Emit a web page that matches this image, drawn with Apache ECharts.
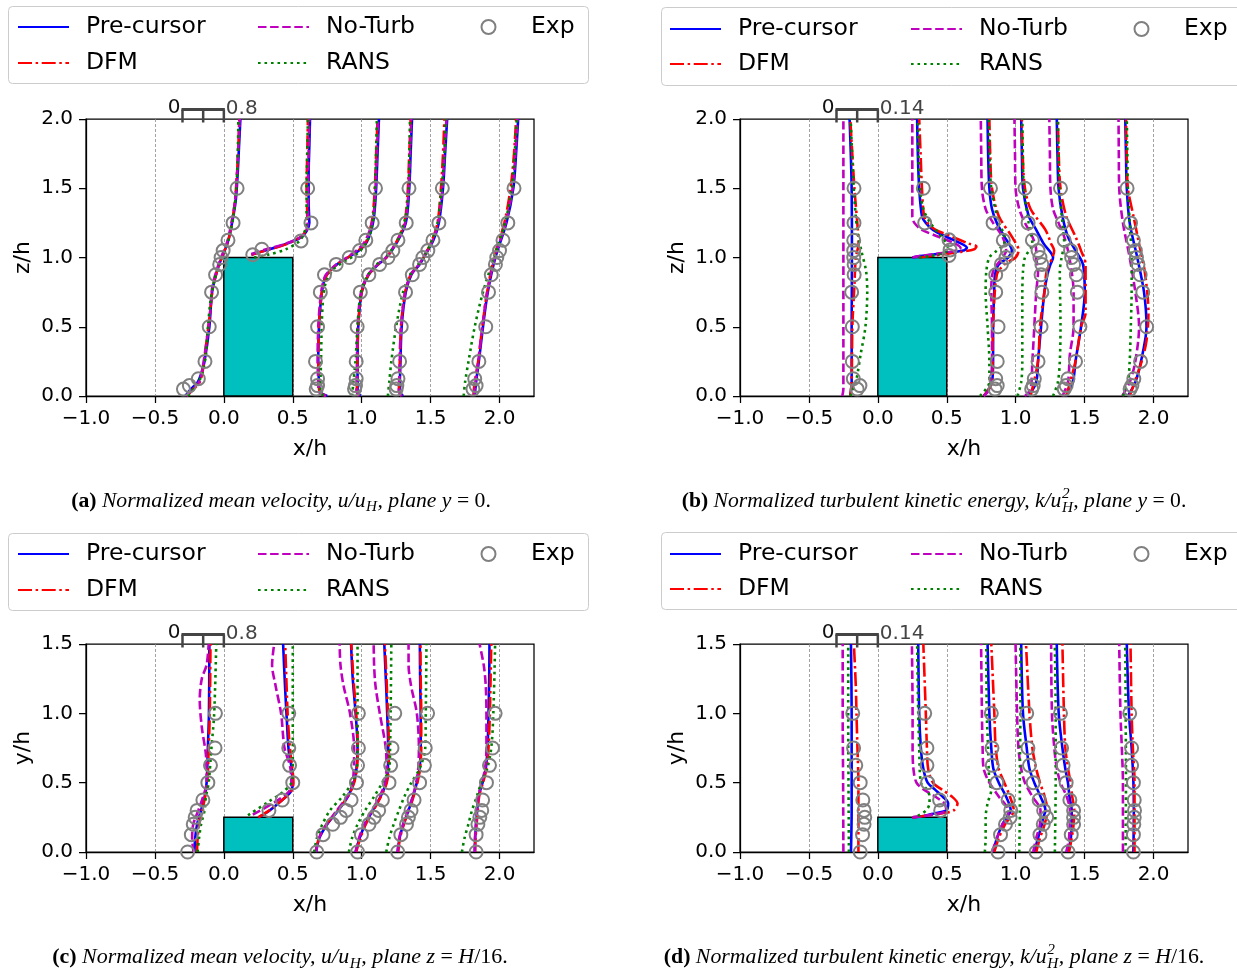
<!DOCTYPE html>
<html><head><meta charset="utf-8">
<script src="https://cdn.jsdelivr.net/npm/echarts@6/dist/echarts.min.js"></script>
<style>html,body{margin:0;padding:0;background:#fff}#c{width:1237px;height:975px}</style>
</head><body><div id="c"></div>
<script>
// ---------------- tick labels / axes ----------------
const xTicks = [-1, -0.5, 0, 0.5, 1, 1.5, 2];
const yTicksZ = [0, 0.5, 1, 1.5, 2];
const yTicksY = [0, 0.5, 1, 1.5];
const seriesNames = ['Pre-cursor', 'DFM', 'No-Turb', 'RANS', 'Exp'];
const blockX = [0, 0.5];
const blockTops = [1.0, 1.0, 0.25, 0.25];
const scaleBarX = [-0.3, 0];
const scaleBarLabels = [['0', '0.8'], ['0', '0.14'], ['0', '0.8'], ['0', '0.14']];

// ---------------- (a) u/uH, plane y=0 : profiles [x/h, z/h] ----------------
const a_pre = [
 [[-0.28,0],[-0.24,0.05],[-0.19,0.1],[-0.165,0.16],[-0.14,0.25],[-0.105,0.5],[-0.085,0.75],[-0.05,0.9],[-0.015,1.0],[0.025,1.1],[0.05,1.2],[0.085,1.4],[0.1,1.6],[0.11,1.8],[0.12,2.0]],
 [[0.2,1.02],[0.28,1.045],[0.43,1.09],[0.56,1.145],[0.6,1.19],[0.62,1.25],[0.615,1.4],[0.615,1.6],[0.62,1.8],[0.625,2.0]],
 [[0.75,0],[0.7,0.03],[0.69,0.1],[0.685,0.25],[0.69,0.5],[0.705,0.7],[0.72,0.8],[0.745,0.875],[0.82,0.95],[0.9,1.0],[0.98,1.05],[1.03,1.1],[1.07,1.2],[1.09,1.3],[1.105,1.5],[1.115,1.75],[1.125,2.0]],
 [[0.99,0],[0.97,0.04],[0.97,0.2],[0.975,0.5],[1.0,0.75],[1.05,0.875],[1.12,0.95],[1.18,1.0],[1.25,1.1],[1.32,1.25],[1.345,1.5],[1.355,1.75],[1.365,2.0]],
 [[1.3,0],[1.275,0.04],[1.28,0.2],[1.29,0.5],[1.32,0.75],[1.36,0.875],[1.42,0.95],[1.45,1.0],[1.52,1.125],[1.56,1.25],[1.59,1.5],[1.605,1.75],[1.62,2.0]],
 [[1.82,0],[1.83,0.1],[1.85,0.25],[1.88,0.5],[1.915,0.75],[1.97,1.0],[2.05,1.25],[2.1,1.5],[2.12,1.75],[2.135,2.0]]
];
const a_dfm = [
 [[-0.27,0],[-0.22,0.05],[-0.175,0.1],[-0.15,0.2],[-0.125,0.4],[-0.1,0.6],[-0.08,0.78],[-0.05,0.9],[-0.015,1.0],[0.025,1.1],[0.05,1.2],[0.08,1.4],[0.095,1.6],[0.105,1.8],[0.112,2.0]],
 [[0.2,1.02],[0.3,1.05],[0.45,1.095],[0.56,1.15],[0.595,1.2],[0.605,1.3],[0.6,1.5],[0.605,1.75],[0.61,2.0]],
 [[0.74,0],[0.695,0.03],[0.688,0.1],[0.685,0.25],[0.69,0.5],[0.705,0.7],[0.72,0.8],[0.748,0.875],[0.82,0.95],[0.9,1.0],[0.975,1.05],[1.025,1.1],[1.06,1.2],[1.08,1.3],[1.095,1.5],[1.105,1.75],[1.115,2.0]],
 [[0.98,0],[0.965,0.04],[0.968,0.2],[0.975,0.5],[1.0,0.75],[1.05,0.875],[1.12,0.95],[1.18,1.0],[1.245,1.1],[1.31,1.25],[1.335,1.5],[1.345,1.75],[1.355,2.0]],
 [[1.29,0],[1.27,0.04],[1.275,0.2],[1.285,0.5],[1.315,0.75],[1.355,0.875],[1.415,0.95],[1.45,1.0],[1.51,1.125],[1.55,1.25],[1.575,1.5],[1.59,1.75],[1.6,2.0]],
 [[1.81,0],[1.82,0.1],[1.845,0.25],[1.875,0.5],[1.91,0.75],[1.96,1.0],[2.035,1.25],[2.08,1.5],[2.105,1.75],[2.12,2.0]]
];
const a_noturb = [
 [[-0.27,0],[-0.23,0.05],[-0.18,0.1],[-0.155,0.2],[-0.125,0.4],[-0.1,0.6],[-0.085,0.78],[-0.055,0.9],[-0.02,1.0],[0.02,1.1],[0.045,1.2],[0.08,1.4],[0.095,1.6],[0.105,1.8],[0.115,2.0]],
 [[0.2,1.025],[0.3,1.058],[0.45,1.1],[0.56,1.15],[0.6,1.2],[0.61,1.3],[0.61,1.5],[0.615,1.75],[0.62,2.0]],
 [[0.74,0],[0.69,0.03],[0.685,0.1],[0.68,0.25],[0.685,0.5],[0.7,0.7],[0.715,0.8],[0.74,0.875],[0.815,0.95],[0.9,1.005],[0.975,1.06],[1.02,1.11],[1.06,1.2],[1.085,1.3],[1.1,1.5],[1.11,1.75],[1.12,2.0]],
 [[0.98,0],[0.962,0.04],[0.965,0.2],[0.97,0.5],[0.995,0.75],[1.045,0.875],[1.115,0.95],[1.175,1.0],[1.245,1.1],[1.315,1.25],[1.34,1.5],[1.35,1.75],[1.36,2.0]],
 [[1.29,0],[1.27,0.04],[1.275,0.2],[1.285,0.5],[1.315,0.75],[1.355,0.875],[1.415,0.95],[1.445,1.0],[1.515,1.125],[1.555,1.25],[1.585,1.5],[1.6,1.75],[1.615,2.0]],
 [[1.815,0],[1.825,0.1],[1.845,0.25],[1.875,0.5],[1.91,0.75],[1.965,1.0],[2.045,1.25],[2.095,1.5],[2.115,1.75],[2.13,2.0]]
];
const a_rans = [
 [[-0.26,0],[-0.2,0.08],[-0.16,0.15],[-0.13,0.3],[-0.115,0.5],[-0.095,0.7],[-0.065,0.85],[-0.03,0.95],[0.01,1.05],[0.04,1.15],[0.07,1.3],[0.09,1.5],[0.1,1.7],[0.105,2.0]],
 [[0.22,1.0],[0.32,1.02],[0.45,1.06],[0.55,1.12],[0.59,1.2],[0.6,1.3],[0.6,1.5],[0.605,1.75],[0.61,2.0]],
 [[0.72,0],[0.7,0.05],[0.705,0.25],[0.71,0.5],[0.72,0.7],[0.74,0.82],[0.8,0.92],[0.89,0.98],[0.97,1.03],[1.03,1.1],[1.07,1.2],[1.09,1.35],[1.1,1.6],[1.11,2.0]],
 [[0.93,0],[0.94,0.1],[0.955,0.25],[0.97,0.5],[0.995,0.75],[1.05,0.88],[1.12,0.96],[1.19,1.02],[1.26,1.12],[1.32,1.3],[1.34,1.5],[1.35,2.0]],
 [[1.19,0],[1.2,0.1],[1.215,0.25],[1.25,0.5],[1.3,0.75],[1.35,0.875],[1.41,0.95],[1.45,1.0],[1.51,1.125],[1.55,1.25],[1.58,1.5],[1.6,1.75],[1.61,2.0]],
 [[1.74,0],[1.75,0.1],[1.775,0.25],[1.82,0.5],[1.88,0.75],[1.96,1.0],[2.04,1.25],[2.09,1.5],[2.11,1.75],[2.125,2.0]]
];
const a_exp = [
 [[-0.293,0.05],[-0.25,0.075],[-0.185,0.125],[-0.137,0.25],[-0.106,0.5],[-0.089,0.75],[-0.06,0.875],[-0.03,0.95],[-0.02,1.0],[-0.005,1.05],[0.03,1.125],[0.067,1.25],[0.096,1.5]],
 [[0.21,1.02],[0.276,1.06],[0.56,1.12],[0.632,1.25],[0.608,1.5]],
 [[0.67,0.05],[0.68,0.075],[0.68,0.125],[0.665,0.25],[0.68,0.5],[0.70,0.75],[0.73,0.875],[0.815,0.95],[0.91,1.0],[0.985,1.05],[1.03,1.125],[1.076,1.25],[1.1,1.5]],
 [[0.948,0.05],[0.955,0.075],[0.96,0.125],[0.96,0.25],[0.967,0.5],[0.99,0.75],[1.052,0.875],[1.13,0.95],[1.19,1.0],[1.226,1.05],[1.263,1.125],[1.323,1.25],[1.343,1.5]],
 [[1.25,0.05],[1.255,0.075],[1.263,0.125],[1.275,0.25],[1.287,0.5],[1.318,0.75],[1.367,0.875],[1.42,0.95],[1.444,1.0],[1.48,1.05],[1.517,1.125],[1.56,1.25],[1.585,1.5]],
 [[1.807,0.05],[1.83,0.075],[1.82,0.125],[1.85,0.25],[1.9,0.5],[1.92,0.75],[1.94,0.875],[1.97,0.95],[1.98,1.0],[2.0,1.05],[2.025,1.125],[2.06,1.25],[2.105,1.5]]
];

// ---------------- (b) k/uH^2, plane y=0 ----------------
const b_pre = [
 [[-0.2,0],[-0.19,0.1],[-0.19,0.5],[-0.188,1.0],[-0.19,1.5],[-0.205,2.0]],
 [[0.25,1.0],[0.307,1.01],[0.47,1.03],[0.62,1.05],[0.646,1.07],[0.605,1.1],[0.497,1.15],[0.4,1.2],[0.348,1.25],[0.32,1.3],[0.3,1.5],[0.29,1.75],[0.285,2.0]],
 [[0.768,0],[0.828,0.1],[0.836,0.25],[0.836,0.5],[0.844,0.75],[0.85,0.875],[0.877,0.95],[0.945,1.0],[0.972,1.05],[0.918,1.15],[0.863,1.25],[0.828,1.35],[0.809,1.5],[0.8,1.75],[0.796,2.0]],
 [[1.094,0],[1.149,0.1],[1.162,0.25],[1.184,0.5],[1.208,0.75],[1.23,0.875],[1.252,0.95],[1.271,1.0],[1.203,1.1],[1.149,1.2],[1.094,1.3],[1.053,1.5],[1.045,1.75],[1.04,2.0]],
 [[1.366,0],[1.415,0.1],[1.434,0.25],[1.474,0.5],[1.501,0.75],[1.488,0.95],[1.434,1.05],[1.379,1.15],[1.339,1.3],[1.311,1.5],[1.303,1.75],[1.298,2.0]],
 [[1.814,0],[1.868,0.1],[1.909,0.25],[1.949,0.5],[1.931,0.75],[1.882,1.0],[1.827,1.25],[1.806,1.5],[1.8,1.75],[1.795,2.0]]
];
const b_dfm = [
 [[-0.2,0],[-0.19,0.1],[-0.185,0.5],[-0.17,0.8],[-0.16,1.0],[-0.14,1.1],[-0.145,1.2],[-0.17,1.5],[-0.2,2.0]],
 [[0.3,1.0],[0.45,1.02],[0.6,1.04],[0.7,1.06],[0.715,1.08],[0.66,1.1],[0.54,1.15],[0.42,1.2],[0.36,1.25],[0.335,1.3],[0.32,1.5],[0.31,1.75],[0.3,2.0]],
 [[0.768,0],[0.828,0.1],[0.836,0.5],[0.863,0.875],[0.918,0.95],[0.999,1.0],[1.021,1.05],[0.972,1.15],[0.877,1.3],[0.828,1.5],[0.815,1.75],[0.809,2.0]],
 [[1.108,0],[1.162,0.25],[1.176,0.5],[1.208,0.75],[1.225,0.9],[1.279,1.05],[1.257,1.1],[1.216,1.2],[1.108,1.35],[1.067,1.5],[1.05,1.75],[1.045,2.0]],
 [[1.366,0],[1.434,0.25],[1.474,0.5],[1.507,0.6],[1.507,0.75],[1.507,0.95],[1.474,1.05],[1.434,1.15],[1.366,1.3],[1.325,1.5],[1.312,1.75],[1.306,2.0]],
 [[1.827,0],[1.914,0.25],[1.949,0.4],[1.963,0.6],[1.936,0.9],[1.895,1.1],[1.854,1.3],[1.814,1.5],[1.805,1.75],[1.8,2.0]]
];
const b_noturb = [
 [[-0.258,0],[-0.25,0.05],[-0.25,0.5],[-0.25,1.0],[-0.25,1.5],[-0.25,2.0]],
 [[0.25,1.0],[0.3,1.01],[0.45,1.03],[0.57,1.05],[0.6,1.07],[0.56,1.1],[0.44,1.15],[0.32,1.2],[0.265,1.25],[0.25,1.3],[0.25,1.5],[0.25,1.75],[0.25,2.0]],
 [[0.768,0],[0.809,0.05],[0.828,0.25],[0.828,0.5],[0.823,0.75],[0.836,0.9],[0.904,1.0],[0.931,1.05],[0.904,1.15],[0.836,1.25],[0.782,1.35],[0.755,1.5],[0.75,1.75],[0.747,2.0]],
 [[1.067,0],[1.108,0.05],[1.121,0.25],[1.135,0.5],[1.149,0.75],[1.162,0.9],[1.149,1.0],[1.149,1.05],[1.121,1.15],[1.067,1.25],[1.026,1.35],[0.999,1.5],[0.995,1.75],[0.991,2.0]],
 [[1.339,0],[1.379,0.1],[1.393,0.3],[1.42,0.5],[1.42,0.75],[1.406,0.9],[1.379,1.05],[1.352,1.15],[1.311,1.25],[1.271,1.35],[1.252,1.5],[1.248,1.75],[1.244,2.0]],
 [[1.773,0],[1.827,0.1],[1.868,0.25],[1.895,0.5],[1.868,0.75],[1.827,1.0],[1.778,1.25],[1.751,1.5],[1.748,1.75],[1.746,2.0]]
];
const b_rans = [
 [[-0.2,0],[-0.16,0.1],[-0.125,0.3],[-0.09,0.5],[-0.077,0.75],[-0.085,0.9],[-0.12,1.05],[-0.15,1.2],[-0.175,1.5],[-0.197,2.0]],
 [[0.3,1.0],[0.38,1.01],[0.47,1.03],[0.51,1.06],[0.5,1.1],[0.46,1.15],[0.42,1.2],[0.38,1.25],[0.33,1.35],[0.305,1.5],[0.295,1.75],[0.29,2.0]],
 [[0.741,0],[0.809,0.1],[0.809,0.25],[0.796,0.5],[0.782,0.75],[0.787,0.9],[0.809,1.0],[0.863,1.05],[0.918,1.1],[0.918,1.15],[0.877,1.25],[0.823,1.5],[0.81,1.75],[0.804,2.0]],
 [[1.013,0],[1.04,0.1],[1.048,0.25],[1.048,0.5],[1.048,0.75],[1.053,0.9],[1.067,1.0],[1.121,1.1],[1.094,1.25],[1.059,1.5],[1.052,1.75],[1.048,2.0]],
 [[1.271,0],[1.306,0.1],[1.32,0.25],[1.325,0.5],[1.32,0.9],[1.333,1.0],[1.352,1.1],[1.339,1.25],[1.317,1.5],[1.31,1.75],[1.306,2.0]],
 [[1.778,0],[1.814,0.1],[1.827,0.25],[1.835,0.5],[1.841,0.75],[1.841,1.0],[1.827,1.25],[1.814,1.5],[1.81,1.75],[1.806,2.0]]
];
const b_exp = [
 [[-0.15,0.05],[-0.13,0.075],[-0.178,0.125],[-0.185,0.25],[-0.185,0.5],[-0.19,0.75],[-0.172,0.875],[-0.172,0.95],[-0.175,1.0],[-0.175,1.05],[-0.175,1.125],[-0.173,1.25],[-0.173,1.5]],
 [[0.516,1.015],[0.524,1.055],[0.516,1.128],[0.34,1.25],[0.33,1.5]],
 [[0.85,0.05],[0.866,0.075],[0.855,0.125],[0.866,0.25],[0.872,0.5],[0.855,0.75],[0.855,0.875],[0.896,0.95],[0.93,1.0],[0.94,1.05],[0.91,1.125],[0.836,1.25],[0.817,1.5]],
 [[1.116,0.05],[1.127,0.075],[1.135,0.125],[1.162,0.25],[1.184,0.5],[1.19,0.75],[1.184,0.875],[1.19,0.95],[1.176,1.0],[1.162,1.05],[1.121,1.125],[1.09,1.25],[1.067,1.5]],
 [[1.352,0.05],[1.366,0.075],[1.379,0.125],[1.434,0.25],[1.466,0.5],[1.447,0.75],[1.44,0.875],[1.42,0.95],[1.406,1.0],[1.398,1.05],[1.352,1.125],[1.339,1.25],[1.325,1.5]],
 [[1.83,0.05],[1.843,0.075],[1.857,0.125],[1.906,0.25],[1.95,0.5],[1.922,0.75],[1.903,0.875],[1.887,0.95],[1.876,1.0],[1.868,1.05],[1.854,1.125],[1.833,1.25],[1.808,1.5]]
];

// ---------------- (c) u/uH, plane z=H/16 : profiles [x/h, y/h] ----------------
const c_pre = [
 [[-0.213,0],[-0.208,0.1],[-0.194,0.2],[-0.166,0.3],[-0.139,0.4],[-0.125,0.5],[-0.116,0.75],[-0.108,1.0],[-0.105,1.5]],
 [[0.25,0.25],[0.32,0.29],[0.43,0.38],[0.485,0.434],[0.5,0.494],[0.49,0.615],[0.47,0.735],[0.457,0.95],[0.444,1.19],[0.43,1.5]],
 [[0.67,0],[0.693,0.1],[0.75,0.2],[0.83,0.3],[0.9,0.4],[0.943,0.5],[0.962,0.6],[0.97,0.75],[0.956,1.0],[0.935,1.25],[0.923,1.5]],
 [[0.956,0],[0.985,0.1],[1.026,0.2],[1.08,0.3],[1.137,0.4],[1.178,0.5],[1.19,0.6],[1.192,0.75],[1.185,1.0],[1.175,1.25],[1.164,1.5]],
 [[1.261,0],[1.275,0.1],[1.303,0.2],[1.34,0.3],[1.372,0.4],[1.4,0.5],[1.42,0.6],[1.428,0.75],[1.428,1.0],[1.424,1.25],[1.422,1.5]],
 [[1.821,0],[1.823,0.1],[1.834,0.25],[1.848,0.4],[1.877,0.5],[1.9,0.6],[1.913,0.75],[1.92,1.0],[1.925,1.25],[1.927,1.5]]
];
const c_dfm = [
 [[-0.195,0],[-0.19,0.1],[-0.18,0.2],[-0.158,0.3],[-0.135,0.4],[-0.12,0.5],[-0.11,0.75],[-0.102,1.0],[-0.097,1.5]],
 [[0.25,0.25],[0.33,0.3],[0.44,0.39],[0.49,0.44],[0.505,0.5],[0.495,0.62],[0.48,0.74],[0.465,0.95],[0.455,1.2],[0.445,1.5]],
 [[0.665,0],[0.69,0.1],[0.745,0.2],[0.825,0.3],[0.9,0.4],[0.945,0.5],[0.965,0.6],[0.972,0.75],[0.96,1.0],[0.94,1.25],[0.925,1.5]],
 [[0.96,0],[0.99,0.1],[1.03,0.2],[1.085,0.3],[1.14,0.4],[1.182,0.5],[1.195,0.6],[1.197,0.75],[1.19,1.0],[1.18,1.25],[1.168,1.5]],
 [[1.265,0],[1.278,0.1],[1.306,0.2],[1.343,0.3],[1.376,0.4],[1.404,0.5],[1.423,0.6],[1.432,0.75],[1.432,1.0],[1.428,1.25],[1.426,1.5]],
 [[1.823,0],[1.826,0.1],[1.838,0.25],[1.852,0.4],[1.88,0.5],[1.905,0.6],[1.92,0.75],[1.93,1.0],[1.935,1.25],[1.94,1.5]]
];
const c_noturb = [
 [[-0.22,0],[-0.23,0.1],[-0.222,0.2],[-0.185,0.3],[-0.15,0.4],[-0.125,0.5],[-0.13,0.7],[-0.16,0.9],[-0.175,1.1],[-0.16,1.25],[-0.125,1.35],[-0.11,1.5]],
 [[0.21,0.27],[0.37,0.36],[0.47,0.434],[0.49,0.494],[0.48,0.62],[0.44,0.75],[0.415,1.0],[0.375,1.2],[0.35,1.35],[0.365,1.5]],
 [[0.668,0],[0.69,0.1],[0.745,0.2],[0.82,0.3],[0.895,0.4],[0.935,0.5],[0.945,0.75],[0.915,1.0],[0.868,1.2],[0.846,1.35],[0.84,1.5]],
 [[0.955,0],[0.98,0.1],[1.02,0.2],[1.075,0.3],[1.13,0.4],[1.17,0.5],[1.18,0.6],[1.175,0.75],[1.131,1.0],[1.1,1.2],[1.09,1.35],[1.087,1.5]],
 [[1.26,0],[1.272,0.1],[1.3,0.2],[1.335,0.3],[1.37,0.4],[1.395,0.5],[1.41,0.6],[1.415,0.75],[1.4,1.0],[1.358,1.2],[1.34,1.35],[1.34,1.5]],
 [[1.82,0],[1.822,0.1],[1.832,0.25],[1.845,0.4],[1.87,0.5],[1.895,0.6],[1.905,0.75],[1.905,1.0],[1.9,1.2],[1.885,1.35],[1.855,1.5]]
];
const c_rans = [
 [[-0.19,0],[-0.18,0.1],[-0.165,0.2],[-0.14,0.3],[-0.13,0.4],[-0.11,0.5],[-0.09,0.75],[-0.07,1.0],[-0.055,1.5]],
 [[0.175,0.265],[0.32,0.36],[0.43,0.434],[0.49,0.5],[0.5,0.6],[0.5,0.8],[0.5,1.0],[0.5,1.25],[0.5,1.5]],
 [[0.655,0],[0.675,0.1],[0.715,0.2],[0.77,0.3],[0.86,0.4],[0.93,0.5],[0.965,0.6],[0.97,0.75],[0.97,1.0],[0.97,1.5]],
 [[0.907,0],[0.93,0.1],[0.97,0.2],[1.025,0.3],[1.09,0.4],[1.15,0.5],[1.2,0.6],[1.206,0.75],[1.21,1.0],[1.215,1.5]],
 [[1.178,0],[1.2,0.1],[1.232,0.2],[1.27,0.3],[1.31,0.4],[1.36,0.5],[1.42,0.6],[1.461,0.75],[1.465,1.0],[1.47,1.5]],
 [[1.727,0],[1.746,0.1],[1.774,0.2],[1.8,0.3],[1.835,0.4],[1.868,0.5],[1.91,0.6],[1.94,0.75],[1.955,1.0],[1.968,1.5]]
];
const c_exp = [
 [[-0.263,0],[-0.236,0.125],[-0.222,0.2],[-0.208,0.25],[-0.194,0.3],[-0.152,0.375],[-0.116,0.5],[-0.097,0.625],[-0.064,0.75],[-0.061,1.0]],
 [[0.327,0.3],[0.424,0.375],[0.5,0.5],[0.477,0.625],[0.471,0.75],[0.471,1.0]],
 [[0.674,0],[0.72,0.125],[0.79,0.2],[0.846,0.25],[0.887,0.3],[0.923,0.375],[0.962,0.5],[0.97,0.625],[0.976,0.75],[0.976,1.0]],
 [[0.97,0],[0.998,0.125],[1.053,0.2],[1.09,0.25],[1.123,0.3],[1.15,0.375],[1.198,0.5],[1.21,0.625],[1.22,0.75],[1.24,1.0]],
 [[1.261,0],[1.284,0.125],[1.325,0.2],[1.339,0.25],[1.358,0.3],[1.38,0.375],[1.42,0.5],[1.455,0.625],[1.461,0.75],[1.478,1.0]],
 [[1.83,0],[1.83,0.125],[1.843,0.2],[1.857,0.25],[1.871,0.3],[1.877,0.375],[1.905,0.5],[1.927,0.625],[1.949,0.75],[1.968,1.0]]
];

// ---------------- (d) k/uH^2, plane z=H/16 ----------------
const d_pre = [
 [[-0.195,0],[-0.19,0.3],[-0.19,0.5],[-0.19,1.0],[-0.195,1.5]],
 [[0.25,0.25],[0.334,0.26],[0.415,0.28],[0.497,0.3],[0.51,0.35],[0.47,0.4],[0.415,0.45],[0.361,0.5],[0.33,0.6],[0.312,0.75],[0.3,1.0],[0.293,1.5]],
 [[0.836,0],[0.864,0.1],[0.904,0.2],[0.935,0.25],[0.964,0.3],[0.93,0.4],[0.877,0.5],[0.838,0.6],[0.823,0.75],[0.809,1.0],[0.796,1.5]],
 [[1.135,0],[1.162,0.1],[1.19,0.2],[1.2,0.25],[1.216,0.3],[1.18,0.4],[1.135,0.5],[1.1,0.6],[1.08,0.75],[1.053,1.0],[1.04,1.5]],
 [[1.379,0],[1.4,0.1],[1.406,0.2],[1.406,0.3],[1.39,0.4],[1.379,0.5],[1.36,0.6],[1.339,0.75],[1.312,1.0],[1.298,1.5]],
 [[1.854,0],[1.857,0.3],[1.854,0.5],[1.841,0.75],[1.822,1.0],[1.806,1.5]]
];
const d_dfm = [
 [[-0.141,0],[-0.141,0.3],[-0.141,0.5],[-0.148,0.75],[-0.155,1.0],[-0.16,1.2],[-0.174,1.5]],
 [[0.25,0.25],[0.334,0.26],[0.47,0.28],[0.55,0.3],[0.578,0.35],[0.537,0.4],[0.465,0.45],[0.4,0.5],[0.365,0.6],[0.356,0.75],[0.348,1.0],[0.33,1.5]],
 [[0.845,0],[0.877,0.1],[0.923,0.2],[0.96,0.25],[0.986,0.3],[0.958,0.4],[0.918,0.5],[0.877,0.6],[0.855,0.75],[0.845,1.0],[0.823,1.5]],
 [[1.149,0],[1.176,0.1],[1.21,0.2],[1.23,0.3],[1.21,0.4],[1.176,0.5],[1.149,0.6],[1.121,0.75],[1.1,1.0],[1.075,1.5]],
 [[1.387,0],[1.406,0.1],[1.42,0.2],[1.425,0.3],[1.41,0.4],[1.398,0.5],[1.38,0.6],[1.36,0.75],[1.35,1.0],[1.339,1.5]],
 [[1.862,0],[1.862,0.5],[1.85,0.75],[1.841,1.0],[1.833,1.5]]
];
const d_noturb = [
 [[-0.25,0],[-0.252,0.5],[-0.255,1.0],[-0.255,1.5]],
 [[0.25,0.25],[0.4,0.27],[0.497,0.3],[0.483,0.35],[0.415,0.4],[0.334,0.45],[0.28,0.5],[0.258,0.6],[0.252,0.75],[0.252,1.0],[0.247,1.5]],
 [[0.828,0],[0.864,0.1],[0.904,0.2],[0.945,0.25],[0.945,0.3],[0.877,0.4],[0.809,0.5],[0.768,0.6],[0.76,0.75],[0.755,1.0],[0.749,1.5]],
 [[1.127,0],[1.149,0.1],[1.176,0.2],[1.18,0.3],[1.121,0.4],[1.067,0.5],[1.04,0.6],[1.02,0.75],[1.01,1.0],[0.999,1.5]],
 [[1.366,0],[1.387,0.1],[1.393,0.3],[1.37,0.4],[1.325,0.5],[1.299,0.6],[1.28,0.75],[1.263,1.0],[1.257,1.5]],
 [[1.778,0],[1.778,0.5],[1.77,0.75],[1.76,1.0],[1.751,1.5]]
];
const d_rans = [
 [[-0.21,0],[-0.213,0.5],[-0.215,1.0],[-0.215,1.5]],
 [[0.29,0.26],[0.35,0.3],[0.375,0.35],[0.375,0.4],[0.356,0.45],[0.312,0.5],[0.3,0.75],[0.293,1.0],[0.285,1.5]],
 [[0.776,0],[0.782,0.1],[0.782,0.25],[0.796,0.35],[0.823,0.45],[0.809,0.5],[0.8,0.75],[0.79,1.0],[0.787,1.5]],
 [[1.026,0],[1.03,0.3],[1.03,0.5],[1.034,1.0],[1.034,1.5]],
 [[1.284,0],[1.29,0.5],[1.29,1.0],[1.284,1.5]],
 [[1.797,0],[1.8,0.5],[1.798,1.0],[1.795,1.5]]
];
const d_exp = [
 [[-0.128,0],[-0.111,0.125],[-0.1,0.2],[-0.095,0.25],[-0.1,0.3],[-0.109,0.375],[-0.128,0.5],[-0.16,0.625],[-0.176,0.75],[-0.182,1.0]],
 [[0.456,0.3],[0.448,0.375],[0.361,0.5],[0.356,0.625],[0.356,0.75],[0.34,1.0]],
 [[0.872,0],[0.89,0.125],[0.926,0.2],[0.96,0.25],[0.964,0.3],[0.945,0.375],[0.863,0.5],[0.83,0.625],[0.828,0.75],[0.823,1.0]],
 [[1.148,0],[1.176,0.125],[1.2,0.2],[1.225,0.25],[1.203,0.3],[1.17,0.375],[1.127,0.5],[1.1,0.625],[1.089,0.75],[1.08,1.0]],
 [[1.38,0],[1.403,0.125],[1.42,0.2],[1.42,0.25],[1.42,0.3],[1.393,0.375],[1.366,0.5],[1.344,0.625],[1.333,0.75],[1.325,1.0]],
 [[1.854,0],[1.854,0.125],[1.857,0.2],[1.86,0.25],[1.862,0.3],[1.86,0.375],[1.854,0.5],[1.841,0.625],[1.841,0.75],[1.827,1.0]]
];

// ---------------- captions ----------------
const capA = [['b','(a)'],['i',' Normalized mean velocity, '],['i','u/u'],['sub','H'],['i',', plane '],['i','y'],['r',' = 0.']];
const capB = [['b','(b)'],['i',' Normalized turbulent kinetic energy, '],['i','k/u'],['stack','2','H'],['i',', plane '],['i','y'],['r',' = 0.']];
const capC = [['b','(c)'],['i',' Normalized mean velocity, '],['i','u/u'],['sub','H'],['i',', plane '],['i','z'],['r',' = '],['i','H'],['r','/16.']];
const capD = [['b','(d)'],['i',' Normalized turbulent kinetic energy, '],['i','k/u'],['stack','2','H'],['i',', plane '],['i','z'],['r',' = '],['i','H'],['r','/16.']];

// ================= layout / style =================
const FONT = 'DejaVu Sans';
const grids = [
  {left: 86, top: 119, width: 448, height: 277},
  {left: 740, top: 119, width: 448, height: 277},
  {left: 86, top: 644, width: 448, height: 208},
  {left: 740, top: 644, width: 448, height: 208}
];
const panels = [
  {pre: a_pre, dfm: a_dfm, nt: a_noturb, rans: a_rans, exp: a_exp, ymax: 2, yTicks: yTicksZ, yName: 'z/h'},
  {pre: b_pre, dfm: b_dfm, nt: b_noturb, rans: b_rans, exp: b_exp, ymax: 2, yTicks: yTicksZ, yName: 'z/h'},
  {pre: c_pre, dfm: c_dfm, nt: c_noturb, rans: c_rans, exp: c_exp, ymax: 1.5, yTicks: yTicksY, yName: 'y/h'},
  {pre: d_pre, dfm: d_dfm, nt: d_noturb, rans: d_rans, exp: d_exp, ymax: 1.5, yTicks: yTicksY, yName: 'y/h'}
];
const lineDefs = [
  {key: 'pre', name: seriesNames[0], color: '#0000ff', type: 'solid', width: 2.6},
  {key: 'dfm', name: seriesNames[1], color: '#ff0000', type: [14, 3.6, 2.5, 3.6], width: 2.6},
  {key: 'nt', name: seriesNames[2], color: '#bf00bf', type: [8.5, 3.6], width: 2.6},
  {key: 'rans', name: seriesNames[3], color: '#008000', type: [2.6, 3.9], width: 2.6}
];
const expStyle = {color: 'rgba(0,0,0,0)', borderColor: '#808080', borderWidth: 2, opacity: 1};

function fmtX(v) {
  if (Math.abs(v * 2 - Math.round(v * 2)) > 1e-6 || v > 2.0001) return '';
  return (v < 0 ? '\u2212' : '') + Math.abs(v).toFixed(1);
}
const axisLineStyle = {color: '#000', width: 1.25};

const xAxes = [], yAxes = [], series = [];
panels.forEach((P, i) => {
  xAxes.push({
    gridIndex: i, type: 'value', min: -1, max: 2.25, interval: 0.5,
    name: 'x/h', nameLocation: 'middle', nameGap: 42,
    nameTextStyle: {fontSize: 22, fontFamily: FONT, color: '#000'},
    axisLine: {onZero: false, lineStyle: axisLineStyle},
    axisTick: {length: 7, lineStyle: axisLineStyle, customValues: xTicks},
    axisLabel: {customValues: xTicks, formatter: fmtX, fontSize: 20, fontFamily: FONT, color: '#000', margin: 13},
    splitLine: {show: true, lineStyle: {color: '#8a8a8a', width: 0.8, type: [3, 2]}}
  });
  yAxes.push({
    gridIndex: i, type: 'value', min: 0, max: P.ymax, interval: 0.5,
    name: P.yName, nameLocation: 'middle', nameGap: 52, nameRotate: 90,
    nameTextStyle: {fontSize: 22, fontFamily: FONT, color: '#000'},
    axisLine: {onZero: false, lineStyle: axisLineStyle},
    axisTick: {length: 7, lineStyle: axisLineStyle, customValues: P.yTicks},
    axisLabel: {customValues: P.yTicks, formatter: v => v.toFixed(1), fontSize: 20, fontFamily: FONT, color: '#000', margin: 13},
    splitLine: {show: false}
  });
  // obstacle block
  series.push({
    type: 'custom', xAxisIndex: i, yAxisIndex: i, z: 1, silent: true,
    data: [[blockX[0], blockX[1], blockTops[i]]],
    renderItem: (params, api) => {
      const p0 = api.coord([api.value(0), api.value(2)]);
      const p1 = api.coord([api.value(1), 0]);
      return {type: 'rect', shape: {x: p0[0], y: p0[1], width: p1[0] - p0[0], height: p1[1] - p0[1]},
              style: {fill: '#00bfbf', stroke: '#000', lineWidth: 1.5}};
    }
  });
  lineDefs.forEach(L => {
    P[L.key].forEach(prof => {
      series.push({
        type: 'line', name: L.name, xAxisIndex: i, yAxisIndex: i, data: prof,
        symbol: 'none', smooth: 0.3, z: 2, silent: true,
        lineStyle: {color: L.color, width: L.width, type: L.type, cap: 'butt'},
        itemStyle: {color: L.color}
      });
    });
  });
  series.push({
    type: 'scatter', name: seriesNames[4], xAxisIndex: i, yAxisIndex: i, z: 3,
    data: P.exp.flat(), symbol: 'circle', symbolSize: 13, itemStyle: expStyle, silent: true
  });
  // scale bar above axes
  const labs = scaleBarLabels[i];
  series.push({
    type: 'custom', xAxisIndex: i, yAxisIndex: i, z: 5, silent: true, clip: false,
    data: [[scaleBarX[0], scaleBarX[1], P.ymax]],
    renderItem: (params, api) => {
      const a = api.coord([api.value(0), api.value(2)]);
      const b = api.coord([api.value(1), api.value(2)]);
      const yb = a[1] - 9.5, yt = a[1] + 3.5, xm = (a[0] + b[0]) / 2;
      const st = {stroke: '#444', lineWidth: 2.5};
      return {type: 'group', children: [
        {type: 'line', shape: {x1: a[0] - 1, y1: yb, x2: b[0] + 1, y2: yb}, style: {stroke: '#444', lineWidth: 3}},
        {type: 'line', shape: {x1: a[0], y1: yb, x2: a[0], y2: yt}, style: st},
        {type: 'line', shape: {x1: xm, y1: yb, x2: xm, y2: yt}, style: st},
        {type: 'line', shape: {x1: b[0], y1: yb, x2: b[0], y2: yt}, style: st},
        {type: 'text', x: a[0] - 2, y: yb - 2, style: {text: labs[0], font: '20px "DejaVu Sans"', fill: '#111', align: 'right', verticalAlign: 'middle', textAlign: 'right', textVerticalAlign: 'middle'}},
        {type: 'text', x: b[0] + 2, y: yb - 1, style: {text: labs[1], font: '20px "DejaVu Sans"', fill: '#444', align: 'left', verticalAlign: 'middle', textAlign: 'left', textVerticalAlign: 'middle'}}
      ]};
    }
  });
});

// ---------------- legends ----------------
const legendPos = [
  {cols: [17, 257, 462], top: 15, gap: 12},
  {cols: [669, 910, 1115], top: 17, gap: 11},
  {cols: [17, 257, 462], top: 542, gap: 12},
  {cols: [669, 910, 1115], top: 542, gap: 11}
];
const legendFrames = [
  {x: 8, y: 6, w: 580, h: 77},
  {x: 661, y: 7, w: 590, h: 78},
  {x: 8, y: 533, w: 580, h: 77},
  {x: 661, y: 532, w: 590, h: 77}
];
const legCommon = {orient: 'vertical', padding: 0, itemWidth: 51, itemHeight: 14,
  textStyle: {fontSize: 23.5, fontFamily: FONT, color: '#000', padding: [0, 0, 0, 12], lineHeight: 14}};
const legends = [];
legendPos.forEach(L => {
  legends.push(Object.assign({}, legCommon, {data: [seriesNames[0], seriesNames[1]], left: L.cols[0], top: L.top, itemGap: L.gap, itemStyle: {opacity: 0}}));
  legends.push(Object.assign({}, legCommon, {data: [seriesNames[2], seriesNames[3]], left: L.cols[1], top: L.top, itemGap: L.gap, itemStyle: {opacity: 0}}));
  // circle icon sits centred in the 51px slot, so shift the box by its inset
  legends.push(Object.assign({}, legCommon, {data: [{name: seriesNames[4], icon: 'circle', itemStyle: expStyle}], left: L.cols[2] + 18.5, top: L.top, itemGap: L.gap}));
});

// ---------------- captions (graphic text) ----------------
const mctx = document.createElement('canvas').getContext('2d');
const SERIF = '"Liberation Serif", "Times New Roman", serif';
function capFont(kind, fs) {
  if (kind === 'b') return 'bold ' + fs + 'px ' + SERIF;
  if (kind === 'r') return fs + 'px ' + SERIF;
  return 'italic ' + fs + 'px ' + SERIF;
}
function tw(text, font) { mctx.font = font; return mctx.measureText(text).width; }
function pieceW(p, fs) {
  if (p[0] === 'stack') return Math.max(tw(p[1], capFont('i', fs * 0.7)), tw(p[2], capFont('i', fs * 0.7))) + 1;
  if (p[0] === 'sub' || p[0] === 'sup') return tw(p[1], capFont('i', fs * 0.7)) + 1;
  return tw(p[1], capFont(p[0], fs));
}
function buildCaption(pieces, cx, cy, targetW) {
  const w18 = pieces.reduce((s, p) => s + pieceW(p, 18), 0);
  const fs = 18 * targetW / w18;
  const total = pieces.reduce((s, p) => s + pieceW(p, fs), 0);
  let x = cx - total / 2;
  const kids = [];
  const mk = (t, font, xx, yy) => ({type: 'text', x: xx, y: yy,
    style: {text: t, font: font, fill: '#000', align: 'left', verticalAlign: 'middle', textAlign: 'left', textVerticalAlign: 'middle'}});
  pieces.forEach(p => {
    const w = pieceW(p, fs);
    if (p[0] === 'stack') {
      kids.push(mk(p[1], capFont('i', fs * 0.7), x + 0.5, cy - 0.3 * fs));
      kids.push(mk(p[2], capFont('i', fs * 0.7), x + 0.5, cy + 0.32 * fs));
    } else if (p[0] === 'sub') {
      kids.push(mk(p[1], capFont('i', fs * 0.7), x + 0.5, cy + 0.3 * fs));
    } else if (p[0] === 'sup') {
      kids.push(mk(p[1], capFont('i', fs * 0.7), x + 0.5, cy - 0.26 * fs));
    } else {
      kids.push(mk(p[1], capFont(p[0], fs), x, cy));
    }
    x += w;
  });
  return {type: 'group', children: kids, silent: true};
}
const captionLayout = [
  {pieces: capA, cx: 281, cy: 501, w: 420},
  {pieces: capB, cx: 934, cy: 501, w: 505},
  {pieces: capC, cx: 280, cy: 957, w: 456},
  {pieces: capD, cx: 934, cy: 957, w: 541}
];
const graphics = [];
legendFrames.forEach(f => graphics.push({type: 'rect', z: 0, silent: true,
  shape: {x: f.x + 0.5, y: f.y + 0.5, width: f.w, height: f.h, r: 4},
  style: {fill: '#fff', stroke: '#cccccc', lineWidth: 1}}));

const chart = echarts.init(document.getElementById('c'), null, {renderer: 'canvas'});
function render() {
  const caps = captionLayout.map(c => buildCaption(c.pieces, c.cx, c.cy, c.w));
  chart.setOption({
    animation: false,
    backgroundColor: '#fff',
    grid: grids.map(g => Object.assign({show: true, borderColor: '#000', borderWidth: 1.25, backgroundColor: 'transparent'}, g)),
    xAxis: xAxes, yAxis: yAxes,
    legend: legends,
    graphic: graphics.concat(caps),
    series: series
  });
}
if (document.fonts && document.fonts.load) {
  Promise.all([
    document.fonts.load('italic 18px "Liberation Serif"'),
    document.fonts.load('bold 18px "Liberation Serif"'),
    document.fonts.load('18px "Liberation Serif"')
  ]).then(render, render);
} else { render(); }
</script></body></html>
